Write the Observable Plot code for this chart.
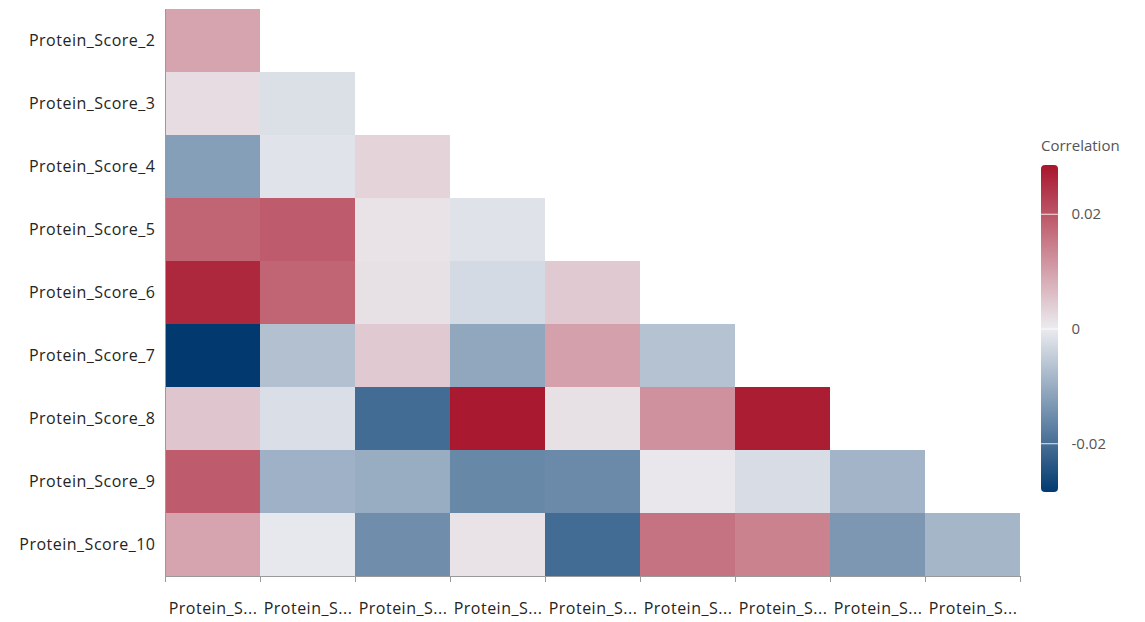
<!DOCTYPE html>
<html>
<head>
<meta charset="utf-8">
<script src="https://cdn.jsdelivr.net/npm/d3@7"></script>
<script src="https://cdn.jsdelivr.net/npm/@observablehq/plot@0.6"></script>
<style>
  body { margin: 0; background: #fff; }
  #wrap { position: relative; width: 1145px; height: 622px; font-family: "Open Sans", sans-serif; }
  #chart { position: absolute; left: 0; top: 0; }
  #legend-title { position: absolute; left: 1041px; top: 135px; font-size: 15px; color: #555; }
  #legend { position: absolute; left: 1041px; top: 160px; }
  #chart svg text { letter-spacing: 0.5px; }
</style>
</head>
<body>
<div id="wrap">
  <div id="chart"></div>
  <div id="legend-title">Correlation</div>
  <div id="legend"></div>
</div>
<script>
// Lower-triangle correlation matrix between protein scores
const rowLabels = ["Protein_Score_2", "Protein_Score_3", "Protein_Score_4", "Protein_Score_5",
  "Protein_Score_6", "Protein_Score_7", "Protein_Score_8", "Protein_Score_9", "Protein_Score_10"];
const colLabels = ["Protein_Score_1", "Protein_Score_2", "Protein_Score_3", "Protein_Score_4",
  "Protein_Score_5", "Protein_Score_6", "Protein_Score_7", "Protein_Score_8", "Protein_Score_9"];

// One array per row: correlations with Protein_Score_1, _2, ...
const score2 = [0.0095];
const score3 = [0.002, -0.002];
const score4 = [-0.0123, -0.0013, 0.003];
const score5 = [0.018, 0.019, 0.001, -0.0015];
const score6 = [0.026, 0.018, 0.0015, -0.0028, 0.0045];
const score7 = [-0.0285, -0.007, 0.0045, -0.011, 0.010, -0.0066];
const score8 = [0.005, -0.0021, -0.0205, 0.028, 0.0015, 0.012, 0.0275];
const score9 = [0.019, -0.0093, -0.010, -0.016, -0.0157, 0.0005, -0.0023, -0.0088];
const score10 = [0.0095, -0.0005, -0.015, 0.001, -0.0205, 0.016, 0.014, -0.0135, -0.0085];

const legendTicks = [-0.02, 0, 0.02];
const colorDomain = [-0.0285, 0, 0.0285];
const colorRange = ["#023a70", "#ebebef", "#a8152c"];

const rowValues = [score2, score3, score4, score5, score6, score7, score8, score9, score10];
const cells = rowValues.flatMap((vals, i) =>
  vals.map((v, j) => ({row: rowLabels[i], col: colLabels[j], value: v})));

const colorOpts = {type: "linear", domain: colorDomain, range: colorRange, interpolate: "rgb"};
const textColor = "#252423";
const axisGray = "#9a9a9a";

const chart = Plot.plot({
  width: 1145,
  height: 622,
  marginLeft: 162,
  marginRight: 123,
  marginTop: 8,
  marginBottom: 46,
  style: {fontFamily: "'Open Sans', sans-serif", fontSize: "16px", color: textColor, background: "transparent"},
  x: {domain: colLabels, padding: 0, axis: null},
  y: {domain: rowLabels, padding: 0, axis: null},
  color: colorOpts,
  marks: [
    Plot.cell(cells, {x: "col", y: "row", fill: "value", inset: 0}),
    Plot.axisX({tickSize: 0, tickPadding: 26, label: null, tickFormat: d => d.slice(0, 9) + "..."}),
    Plot.axisY({tickSize: 0, tickPadding: 7, label: null})
  ]
});
document.getElementById("chart").appendChild(chart);

// Axis lines and ticks at the band edges
const sx = chart.scale("x");
const sy = chart.scale("y");
const xLeft = sx.apply(colLabels[0]);
const xRight = sx.apply(colLabels[colLabels.length - 1]) + sx.bandwidth;
const yTop = sy.apply(rowLabels[0]);
const yBottom = sy.apply(rowLabels[rowLabels.length - 1]) + sy.bandwidth;
const edges = colLabels.map(c => sx.apply(c)).concat([xRight]);
const g = d3.select(chart).append("g").attr("stroke", axisGray).attr("stroke-width", 1);
g.append("line").attr("x1", xLeft + 0.5).attr("x2", xLeft + 0.5).attr("y1", yTop).attr("y2", yBottom);
g.append("line").attr("x1", xLeft).attr("x2", xRight).attr("y1", yBottom + 0.5).attr("y2", yBottom + 0.5);
g.selectAll(".edge").data(edges).join("line")
  .attr("x1", d => Math.round(d) + 0.5).attr("x2", d => Math.round(d) + 0.5)
  .attr("y1", yBottom).attr("y2", yBottom + 6);

// Vertical colour legend
const lo = colorDomain[0], hi = colorDomain[colorDomain.length - 1];
const legend = Plot.plot({
  width: 100,
  height: 337,
  marginLeft: 0,
  marginRight: 83,
  marginTop: 5,
  marginBottom: 5,
  style: {fontFamily: "'Open Sans', sans-serif", fontSize: "15px", color: "#555", background: "transparent", overflow: "visible"},
  x: {domain: [0, 1], axis: null},
  y: {domain: [lo, hi], axis: null},
  marks: [
    Plot.rect([0], {x1: 0, x2: 1, y1: lo, y2: hi, fill: "url(#corr-gradient)", rx: 4}),
    Plot.ruleY(legendTicks, {x1: 0, x2: 1, stroke: "white", strokeOpacity: 0.85}),
    Plot.axisY(legendTicks, {anchor: "right", tickSize: 0, tickPadding: 13, label: null, tickFormat: d => String(d)})
  ]
});
const lc = d3.scaleLinear().domain(colorDomain).range(colorRange).interpolate(d3.interpolateRgb);
const grad = d3.select(legend).insert("defs", ":first-child").append("linearGradient")
  .attr("id", "corr-gradient").attr("x1", 0).attr("y1", 0).attr("x2", 0).attr("y2", 1);
const stops = d3.ticks(0, 1, 20);
grad.selectAll("stop").data(stops).join("stop")
  .attr("offset", t => t)
  .attr("stop-color", t => lc(hi - t * (hi - lo)));
document.getElementById("legend").appendChild(legend);
</script>
</body>
</html>
